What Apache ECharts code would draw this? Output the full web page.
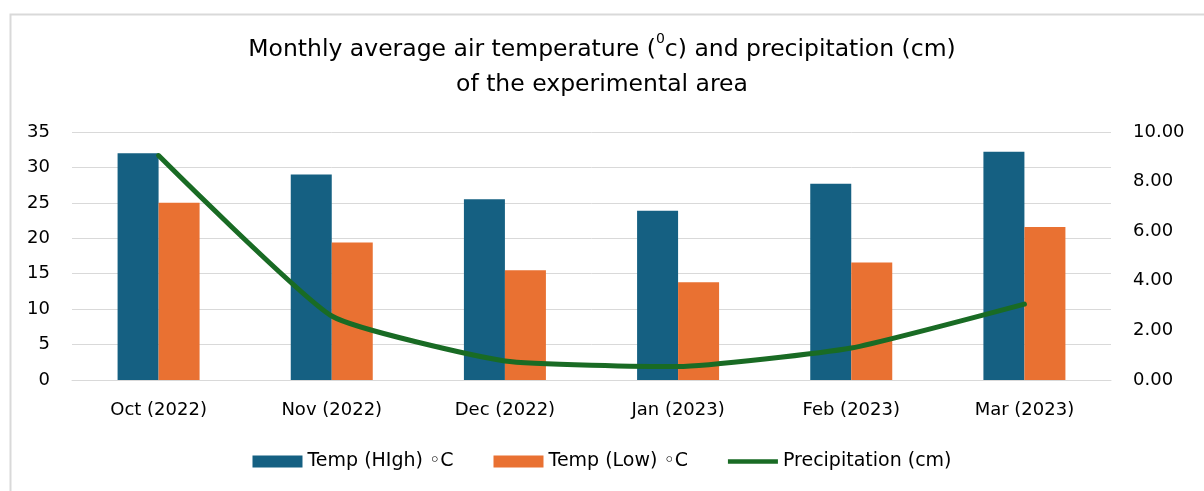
<!DOCTYPE html>
<html>
<head>
<meta charset="utf-8">
<script src="https://cdn.jsdelivr.net/npm/echarts@6/dist/echarts.min.js"></script>
<style>
  html, body { margin: 0; padding: 0; background: #ffffff; }
  #main { width: 1204px; height: 491px; }
</style>
</head>
<body>
<div id="main"></div>
<script>
// 数据
var months = ["Oct (2022)", "Nov (2022)", "Dec (2022)", "Jan (2023)", "Feb (2023)", "Mar (2023)"];
var tempHigh = [32.0, 29.0, 25.5, 23.9, 27.7, 32.2];
var tempLow = [25.0, 19.4, 15.5, 13.8, 16.6, 21.6];
var precip = [9.05, 2.58, 0.77, 0.54, 1.29, 3.06];

var fontMain = "DejaVu Sans, sans-serif";

var chart = echarts.init(document.getElementById("main"));

chart.setOption({
  animation: false,
  backgroundColor: "#ffffff",
  color: ["#156082", "#E97132", "#196B24"],
  graphic: [
    {
      type: "rect",
      left: 8,
      top: 12,
      shape: { width: 1220, height: 500 },
      style: { fill: "none", stroke: "#d9d9d9", lineWidth: 2 },
      silent: true,
    },
  ],
  title: {
    text: "{a|Monthly average air temperature (}{s|0}{a|c) and precipitation (cm)}\n{a|of the experimental area}",
    left: "center",
    top: 27,
    textStyle: {
      rich: {
        a: { fontFamily: fontMain, fontWeight: "normal", fontSize: 23.5, color: "#000000", lineHeight: 35 },
        s: { fontFamily: fontMain, fontWeight: "normal", fontSize: 14, color: "#000000", verticalAlign: "top", padding: [0, 0, 8, 0] },
      },
    },
  },
  legend: {
    bottom: 15,
    left: "center",
    itemWidth: 50,
    itemHeight: 12,
    itemGap: 40,
    textStyle: { fontFamily: fontMain, fontSize: 19, color: "#000000" },
    data: [
      { name: "Temp (HIgh) ◦C", icon: "rect" },
      { name: "Temp (Low) ◦C", icon: "rect" },
      { name: "Precipitation (cm)", icon: "path://M0,0L54,0L54,5L0,5Z" },
    ],
  },
  grid: {
    left: 72,
    right: 93,
    top: 132,
    bottom: 111,
    containLabel: false,
  },
  xAxis: {
    type: "category",
    data: months,
    axisLine: { show: true, lineStyle: { color: "#d9d9d9", width: 1 } },
    axisTick: { show: false },
    axisLabel: { fontFamily: fontMain, fontSize: 18, color: "#000000", margin: 21 },
  },
  yAxis: [
    {
      type: "value",
      min: 0,
      max: 35,
      interval: 5,
      axisLine: { show: false },
      axisTick: { show: false },
      splitLine: { lineStyle: { color: "#d9d9d9", width: 1 } },
      axisLabel: { fontFamily: fontMain, fontSize: 18, color: "#000000", margin: 22 },
    },
    {
      type: "value",
      min: 0,
      max: 10,
      interval: 2,
      axisLine: { show: false },
      axisTick: { show: false },
      splitLine: { show: false },
      axisLabel: {
        fontFamily: fontMain,
        fontSize: 18,
        color: "#000000",
        margin: 22,
        formatter: function (v) { return v.toFixed(2); },
      },
    },
  ],
  series: [
    {
      name: "Temp (HIgh) ◦C",
      type: "bar",
      data: tempHigh,
      barWidth: 41,
      barGap: "0%",
      itemStyle: { color: "#156082" },
    },
    {
      name: "Temp (Low) ◦C",
      type: "bar",
      data: tempLow,
      barWidth: 41,
      itemStyle: { color: "#E97132" },
    },
    {
      name: "Precipitation (cm)",
      type: "line",
      yAxisIndex: 1,
      data: precip,
      smooth: 0.15,
      symbol: "none",
      lineStyle: { color: "#196B24", width: 5, cap: "round" },
      itemStyle: { color: "#196B24" },
    },
  ],
});
</script>
</body>
</html>
